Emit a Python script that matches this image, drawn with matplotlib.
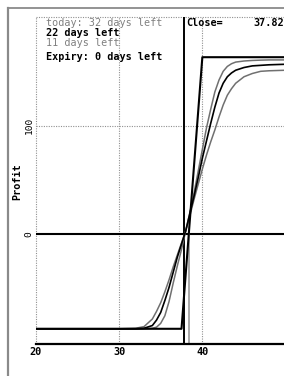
import matplotlib
matplotlib.use("Agg")
import matplotlib.pyplot as plt
from matplotlib.lines import Line2D

# ---------------- data ----------------
price = [20, 30, 32, 33, 34, 34.5, 35, 35.5, 36, 36.5, 37, 37.5, 38, 38.5, 39, 39.5,
         40, 40.5, 41, 41.5, 42, 42.5, 43, 43.5, 44, 45, 46, 47, 48, 50]
profit_32d = [-87, -87, -86.5, -85, -78, -71, -63, -53, -42, -30, -19, -8, 3, 17, 32, 46,
              60, 73, 85, 96, 108, 119, 128, 134, 139, 145, 148, 150, 150.5, 151]
profit_22d = [-87, -87, -87, -86.5, -84, -79, -72, -61, -49, -35, -21, -9, 3, 19, 35, 52,
              70, 86, 102, 117, 130, 139, 145, 148.5, 151, 153.5, 155, 155.5, 156, 156.5]
profit_11d = [-87, -87, -87, -87, -86.5, -85.5, -82, -75, -62, -45, -29, -14, 3, 20, 38, 58,
              78, 98, 115, 131, 142, 150, 154.5, 157, 158.5, 159.5, 160, 160.3, 160.5, 160.5]
expiry_price = [20, 37.5, 40, 50]
expiry_profit = [-87, -87, 163, 163]

close_price = 37.82
breakeven = 38.37
x_ticks = [20, 30, 40]
y_ticks = [0, 100]
y_grid = [100, 200]
legend_labels = ["today: 32 days left", "22 days left", "11 days left", "Expiry: 0 days left"]
close_label = "Close="
close_value = "37.82"

# ---------------- figure ----------------
W, H = 284, 376
fig = plt.figure(figsize=(W / 100, H / 100), dpi=100)
fig.patch.set_facecolor("white")

def fx(px):
    return px / W

def fy(py):
    return 1 - py / H

ax_left, ax_right, ax_top, ax_bottom = 35.7, 284, 17, 344
ax = fig.add_axes([fx(ax_left), fy(ax_bottom), fx(ax_right - ax_left), (ax_bottom - ax_top) / H])
ax.set_xlim(20, 49.8)
ax.set_ylim(-101, 200)
ax.set_facecolor("white")
for s in ["top", "right", "left"]:
    ax.spines[s].set_visible(False)
ax.spines["bottom"].set_color("black")
ax.spines["bottom"].set_linewidth(1.6)
ax.set_xticks([])
ax.set_yticks([])

grid_kw = dict(color="#909090", lw=0.8, linestyle=(0, (1, 1.2)), clip_on=False, zorder=1)
for xv in x_ticks:
    ax.axvline(xv, **grid_kw)
for yv in y_grid:
    ax.axhline(yv, **grid_kw)

ax.axhline(0, color="black", lw=1.5, zorder=2)
ax.axvline(close_price, color="black", lw=1.4, zorder=3)
ax.plot([breakeven, breakeven], [-101, 3], color="#999999", lw=1.2, zorder=2)

gray = "#707070"
ax.plot(price, profit_32d, color=gray, lw=1.1, zorder=4)
ax.plot(price, profit_22d, color="black", lw=1.2, zorder=5)
ax.plot(price, profit_11d, color=gray, lw=1.1, zorder=4)
ax.plot(expiry_price, expiry_profit, color="black", lw=1.5, zorder=6)

mono = "DejaVu Sans Mono"
for xv in x_ticks:
    ax.text(xv, -104, str(xv), ha="center", va="top",
            fontsize=7.3, family=mono, fontweight="bold", color="black",
            clip_on=False)
for yv in y_ticks:
    ax.text(19.72, yv, str(yv), ha="right", va="center", rotation=90,
            fontsize=6.8, family=mono, color="black", clip_on=False)

fig.text(fx(17), fy(182), "Profit", rotation=90, ha="center", va="center",
         fontsize=7.3, family=mono, fontweight="bold")

# legend texts
leg_colors = ["#808080", "black", "#808080", "black"]
leg_weights = ["normal", "bold", "normal", "bold"]
leg_base = [26.5, 36, 45.5, 59.5]
for lab, c, w, yb in zip(legend_labels, leg_colors, leg_weights, leg_base):
    fig.text(fx(45.7), fy(yb), lab, color=c, fontweight=w, fontsize=7.3,
             family=mono, ha="left", va="baseline")

fig.text(fx(186.5), fy(26.5), close_label, fontsize=7.3, family=mono, fontweight="bold",
         ha="left", va="baseline")
fig.text(fx(284), fy(26.5), close_value, fontsize=7.3, family=mono, fontweight="bold",
         ha="right", va="baseline")

# outer frame lines
fig.add_artist(Line2D([fx(8), 1], [fy(8), fy(8)], color="#8a8a8a", lw=1.3))
fig.add_artist(Line2D([fx(8), fx(8)], [fy(8), 0], color="#8a8a8a", lw=1.6))

fig.savefig("out.png", dpi=100)
